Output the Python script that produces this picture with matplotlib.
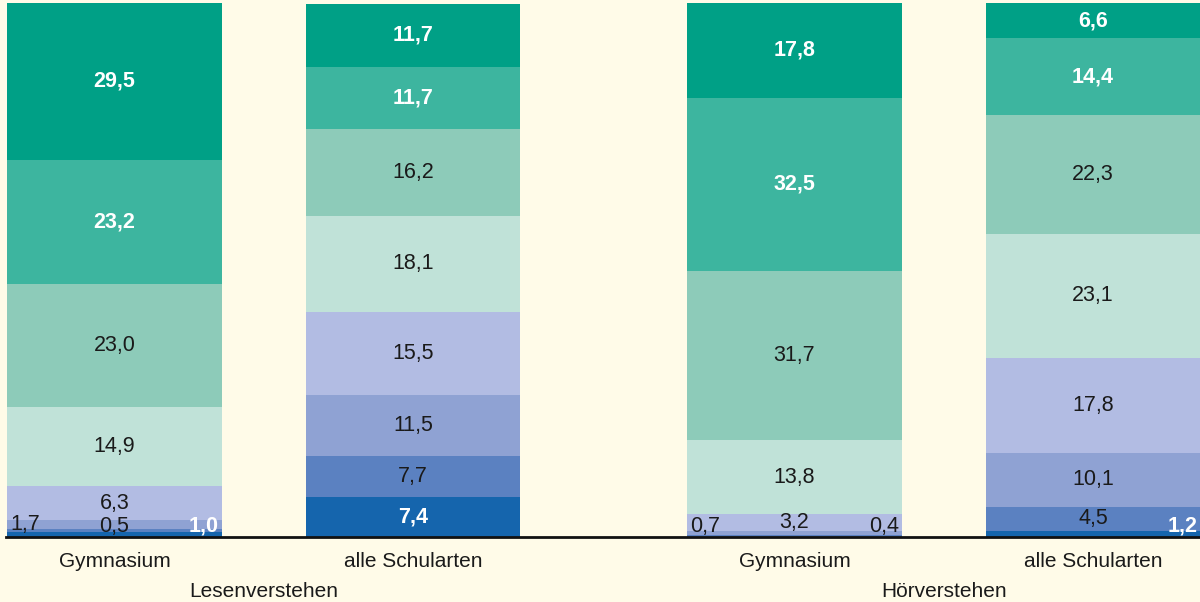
import numpy as np
import matplotlib
matplotlib.use("Agg")
import matplotlib.pyplot as plt

plt.rcParams['font.family'] = ['Liberation Sans', 'DejaVu Sans']

# data (percent per level, from bottom to top)
bars = ["Gymnasium", "alle Schularten", "Gymnasium", "alle Schularten"]
groups = ["Lesenverstehen", "Hörverstehen"]
level_1 = [1.0, 7.4, 0.0, 1.2]
level_2 = [0.5, 7.7, 0.4, 4.5]
level_3 = [1.7, 11.5, 0.7, 10.1]
level_4 = [6.3, 15.5, 3.2, 17.8]
level_5 = [14.9, 18.1, 13.8, 23.1]
level_6 = [23.0, 16.2, 31.7, 22.3]
level_7 = [23.2, 11.7, 32.5, 14.4]
level_8 = [29.5, 11.7, 17.8, 6.6]
levels = [level_1, level_2, level_3, level_4, level_5, level_6, level_7, level_8]

colors = ["#1565ad", "#5b81c1", "#8fa2d3", "#b2bce3",
          "#c0e2d8", "#8dcbb9", "#3db59f", "#00a086"]
white_bold = [0, 6, 7]  # levels with white bold labels

# placement of labels on very thin segments: (bar, level) -> side
small_pos = {(0, 0): 'right', (0, 1): 'center', (0, 2): 'left',
             (2, 1): 'right', (2, 2): 'left', (3, 0): 'right'}

bg = "#fffbe8"
x = np.array([0, 1, 2.278, 3.278])
width = 0.72

fig = plt.figure(figsize=(12, 6.02), dpi=100, facecolor=bg)
ax = fig.add_axes([0, 0.108, 1, 0.887], facecolor=bg)

bottom = np.zeros(len(bars))
for li, vals in enumerate(levels):
    vals = np.array(vals)
    ax.bar(x, vals, width, bottom=bottom, color=colors[li], linewidth=0, zorder=2)
    for bi, v in enumerate(vals):
        if v <= 0:
            continue
        side = small_pos.get((bi, li), 'center')
        xt = x[bi] + {'left': -0.30, 'center': 0.0, 'right': 0.30}[side]
        yt = max(bottom[bi] + v / 2, 2.0)
        if li in white_bold:
            col, fw = 'white', 'bold'
        else:
            col, fw = '#1a1a1a', 'normal'
        ax.text(xt, yt, f"{v:.1f}".replace('.', ','), ha='center', va='center',
                fontsize=15.5, color=col, fontweight=fw, zorder=3)
    bottom += vals

ax.set_xlim(x[0] - 0.3836, x[-1] + 0.3585)
ax.set_ylim(0, 100)

for s in ['top', 'right', 'left']:
    ax.spines[s].set_visible(False)
ax.spines['bottom'].set_linewidth(2)
ax.spines['bottom'].set_color('#111111')
ax.spines['bottom'].set_bounds(x[0] - width / 2 - 0.004, x[-1] + 0.3585)
ax.spines['bottom'].set_zorder(4)

ax.set_yticks([])
ax.set_xticks(x)
ax.set_xticklabels(bars, fontsize=15, color='#1a1a1a')
ax.tick_params(axis='x', length=0, pad=11)

for gi, name in enumerate(groups):
    xc = (x[2 * gi] + x[2 * gi + 1]) / 2
    ax.annotate(name, (xc, 0), xycoords='data', xytext=(0, -55),
                textcoords='offset pixels', ha='center', va='center',
                fontsize=15, color='#1a1a1a')

fig.savefig("out.png", dpi=100, facecolor=bg)
